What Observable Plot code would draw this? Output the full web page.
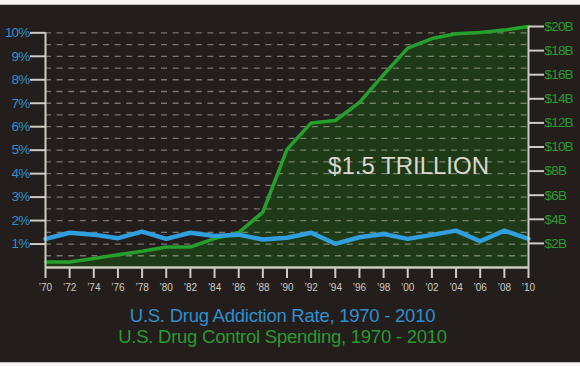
<!DOCTYPE html>
<html>
<head>
<meta charset="utf-8">
<script src="https://cdn.jsdelivr.net/npm/d3@7"></script>
<script src="https://cdn.jsdelivr.net/npm/@observablehq/plot@0.6"></script>
<style>
  html, body { margin: 0; padding: 0; }
  body { width: 580px; height: 366px; background: #231e1b; position: relative; overflow: hidden; }
  #chart { position: absolute; left: 0; top: 0; }
  #chart g[aria-label="y-axis tick label"] text { letter-spacing: -0.8px; }
  .band { position: absolute; left: 0; width: 580px; background: #f3f3f3; }
  .title { position: absolute; left: 0; width: 565px; text-align: center;
           font-family: "Liberation Sans", Arial, sans-serif;
           font-size: 18.5px; letter-spacing: -0.25px; line-height: 20px; white-space: nowrap; }
</style>
</head>
<body>
<div id="chart"></div>
<div class="band" style="top:0;height:4px;border-bottom:1px solid #bdbdbd"></div>
<div class="band" style="top:362px;height:4px;border-top:1px solid #bdbdbd"></div>
<div class="title" id="t1" style="top:306px;color:#2e8fcf">U.S. Drug Addiction Rate, 1970 - 2010</div>
<div class="title" id="t2" style="top:327px;color:#279b2d">U.S. Drug Control Spending, 1970 - 2010</div>
<script>
const years = [1970,1972,1974,1976,1978,1980,1982,1984,1986,1988,1990,1992,1994,1996,1998,2000,2002,2004,2006,2008,2010];
const addictionRate = [1.22,1.48,1.40,1.25,1.53,1.22,1.48,1.34,1.40,1.19,1.27,1.48,1.01,1.29,1.43,1.22,1.39,1.57,1.12,1.57,1.22];
const spendingBillions = [0.45,0.45,0.75,1.05,1.35,1.7,1.7,2.4,2.9,4.6,9.8,12.0,12.2,13.7,16.0,18.2,19.0,19.4,19.5,19.7,20.0];
const percentTicks = [1,2,3,4,5,6,7,8,9,10];
const spendingTicks = [2,4,6,8,10,12,14,16,18,20];
const yearTicks = years;
const gridValues = d3.range(0.5, 10.01, 0.5);
const annotation = [{year: 1993.4, pct: 4.3, label: "$1.5 TRILLION"}];

// right axis ($B) mapped onto the left (%) scale
const K = 10.27 / 20;
const data = years.map((year, i) => ({year, rate: addictionRate[i], spend: spendingBillions[i] * K}));

const axisColor = "#cfcac3";
const blue = "#2e8fcf";
const green = "#279b2d";
const tickFont = "'Liberation Sans', Arial, sans-serif";

const chart = Plot.plot({
  width: 580,
  height: 300,
  marginLeft: 45,
  marginRight: 52,
  marginTop: 26,
  marginBottom: 33,
  style: {background: "transparent", fontFamily: tickFont},
  x: {domain: [1970, 2010], label: null},
  y: {domain: [0, 10.27], label: null},
  marks: [
    Plot.areaY(data, {x: "year", y: "spend", fill: "#1e3a17"}),
    Plot.ruleY(gridValues, {x1: 1970, x2: 2010, stroke: "#cfc9bf", strokeOpacity: 0.5, strokeWidth: 1.3, strokeDasharray: "6,5.6"}),
    Plot.lineY(data, {x: "year", y: "spend", stroke: "#25a02c", strokeWidth: 3.5, strokeLinejoin: "round"}),
    Plot.lineY(data, {x: "year", y: "rate", stroke: "#319fde", strokeWidth: 4.5, strokeLinejoin: "round"}),
    Plot.ruleX([1970], {y1: 0, y2: 10, stroke: axisColor, strokeWidth: 2}),
    Plot.ruleX([2010], {y1: 0, y2: 10.27, stroke: axisColor, strokeWidth: 2}),
    Plot.ruleY([0], {x1: 1970, x2: 2010, stroke: axisColor, strokeWidth: 2.5}),
    Plot.axisY(percentTicks, {anchor: "left", label: null, tickSize: 15, tickPadding: 1, stroke: axisColor, strokeWidth: 2,
      fill: blue, fontSize: 13.5, tickFormat: d => d + "%"}),
    Plot.axisY(spendingTicks.map(b => b * K), {anchor: "right", label: null, tickSize: 15, tickPadding: 1, stroke: axisColor, strokeWidth: 2,
      fill: green, fontSize: 13.5, tickFormat: d => "$" + Math.round(d / K) + "B"}),
    Plot.axisX(yearTicks, {anchor: "bottom", label: null, tickSize: 11, tickPadding: 5, stroke: axisColor, strokeWidth: 2,
      fill: "#cfcac3", fontSize: 10, tickFormat: d => "\u2019" + String(d).slice(2)}),
    Plot.text(annotation, {x: "year", y: "pct", text: "label", textAnchor: "start", fill: "#d8d8cf",
      fontSize: 24, fontFamily: "'Liberation Sans', Arial, sans-serif"})
  ]
});
document.getElementById("chart").appendChild(chart);
</script>
</body>
</html>
